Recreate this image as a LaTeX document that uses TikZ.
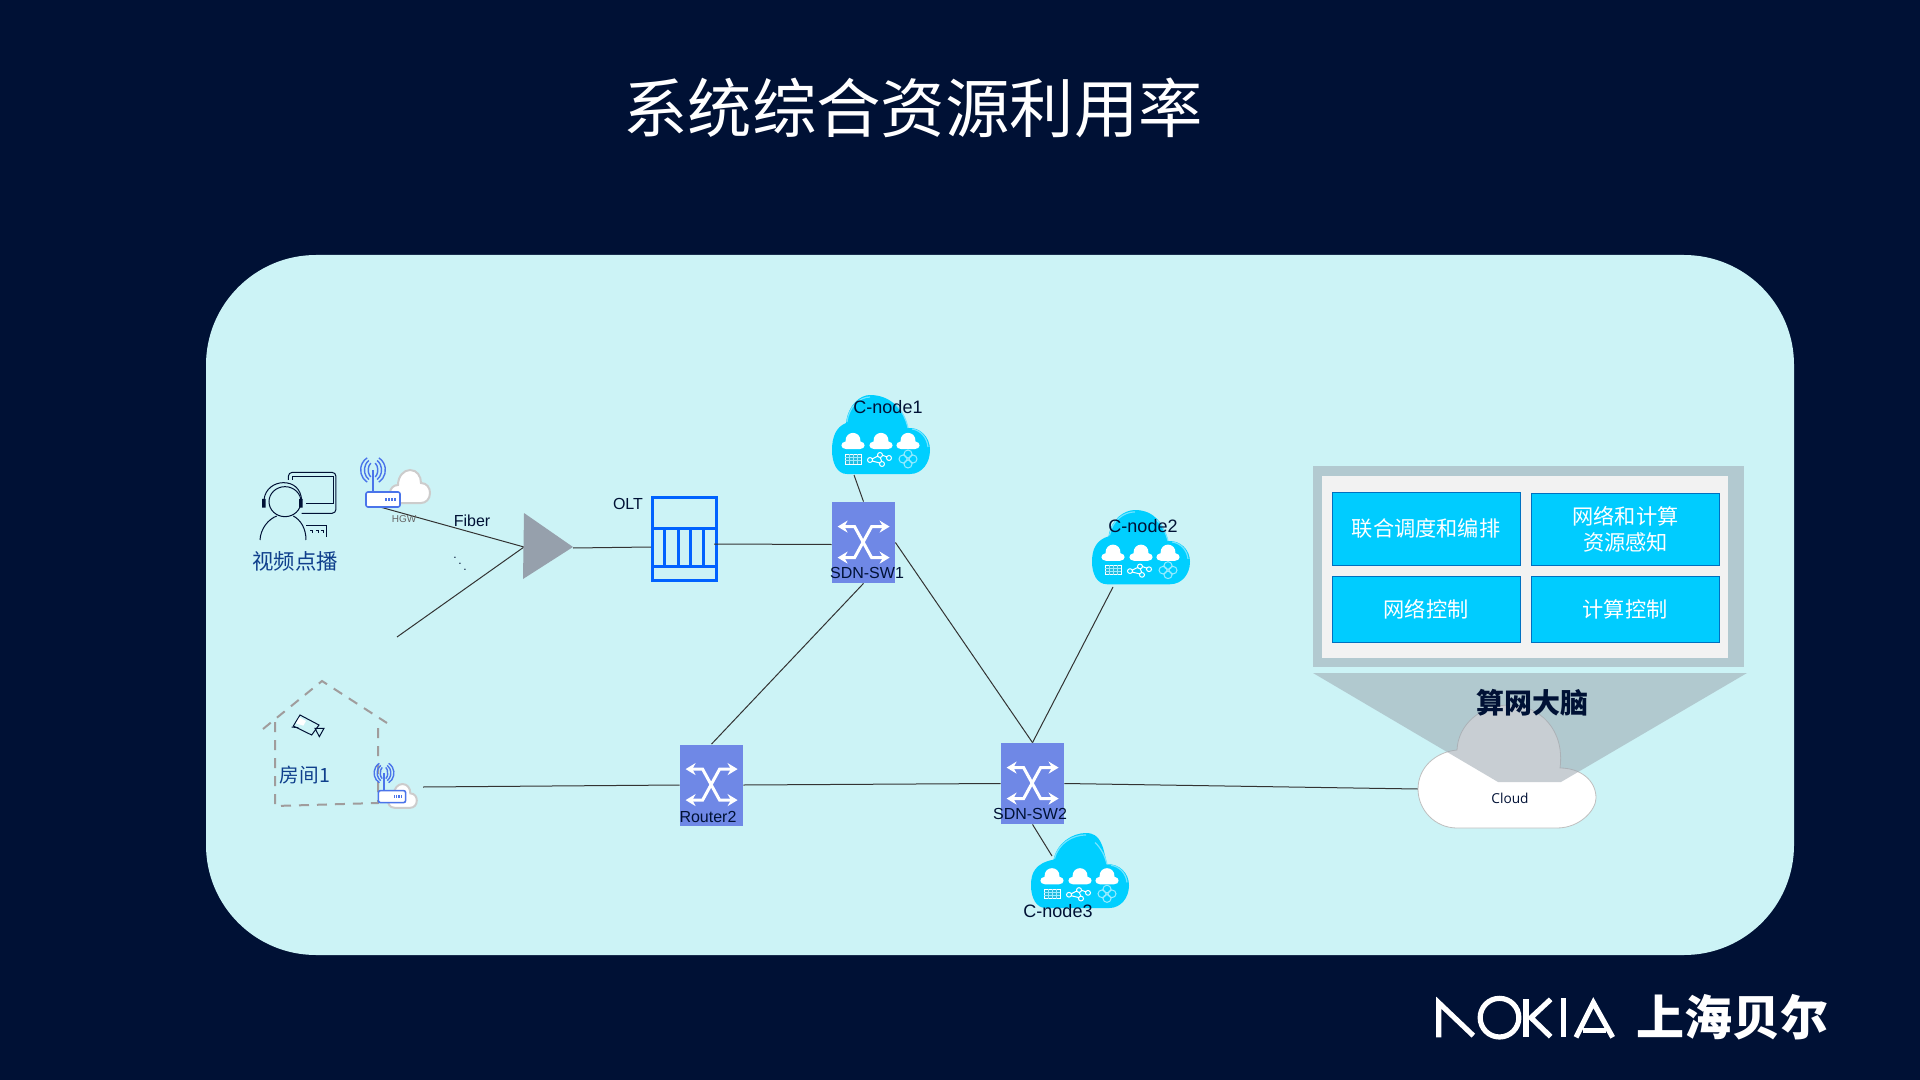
\documentclass[tikz,border=0pt]{standalone}
\usepackage{fontspec}
\usetikzlibrary{arrows.meta}
\setmainfont{Liberation Sans}
\newfontfamily\cjk{Noto Sans CJK SC}
\newfontfamily\cloudfont{Open Sans}
\definecolor{bgnavy}{HTML}{001135}
\definecolor{panelcyan}{HTML}{CCF3F6}
\definecolor{textblue}{HTML}{0F3F8C}
\definecolor{swblue}{HTML}{6F88E6}
\definecolor{oltblue}{HTML}{0062FF}
\definecolor{wifiblue}{HTML}{4A74EA}
\definecolor{cloudcyan}{HTML}{00CFFF}
\definecolor{boxcyan}{HTML}{00CCFF}
\definecolor{boxedge}{HTML}{0070C0}
\definecolor{brainframe}{HTML}{B2C9D0}
\definecolor{brainfill}{HTML}{9CA7B0}
\definecolor{splitgray}{HTML}{96A0AC}
\definecolor{housegray}{HTML}{A09C9C}
\tikzset{
	link/.style={draw=black!80,line width=.5pt},
	lbl/.style={inner sep=0pt,text=bgnavy,font=\fontsize{8}{10}\selectfont},
	cjklbl/.style={inner sep=0pt,text=textblue,font=\cjk\fontsize{10.7}{13}\selectfont},
	swbox/.style={fill=swblue,inner sep=0pt,minimum width=31.5pt,minimum height=40.5pt},
	ctrlbox/.style={draw=boxedge,line width=.5pt,fill=boxcyan,inner sep=0pt,text=white,align=center,
		minimum width=94pt,font=\cjk\fontsize{10.6}{13}\selectfont},
	logostroke/.style={draw=white,line width=2.6pt,miter limit=3},
	swarrow/.style={white,line width=1.5pt,{Stealth[length=5pt,width=6pt]}-{Stealth[length=5pt,width=6pt]}},
	pics/swicon/.style={code={
		\draw[swarrow] (6,25) -- (23,25) -- (40,56) -- (58,56);
		\draw[swarrow] (6,56) -- (23,56) -- (40,25) -- (58,25);
	}},
	pics/whitecloud/.style={code={
		\draw[black!20,line width=1pt,fill=white] (9,33) .. controls (2,33) and (0,27) .. (0,23)
		.. controls (0,18) and (4,15) .. (8,15) .. controls (8,6) and (14,0) .. (20,0)
		.. controls (27,0) and (31,6) .. (31,13) .. controls (37,13) and (40,18) .. (40,23)
		.. controls (40,29) and (36,33) .. (31,33) -- cycle;
	}},
	pics/hgw/.style={code={
		\draw[wifiblue,line width=.7pt] (-10,-30) -- (-10,-8);
		\foreach \r/\h in {5/8,9/11,13/14}{
			\draw[wifiblue,line width=.7pt] (-10,-30) ++(120:\r*.9 and \h) arc[start angle=120,end angle=240,x radius=\r,y radius=\h];
			\draw[wifiblue,line width=.7pt] (-10,-30) ++(60:\r*.9 and \h) arc[start angle=60,end angle=-60,x radius=\r,y radius=\h];
		}
		\draw[wifiblue,line width=.8pt,fill=white,rounded corners=1pt] (-17,-8) rectangle (17,7);
		\foreach \x in {2,5,8,11}{
			\fill[wifiblue] (\x,-2) rectangle ++(1.5,3);
		}
	}},
	pics/smallcloud/.style={code={
		\fill[white] (-7,0) .. controls (-13,0) and (-13,-7) .. (-7.5,-7.5)
		.. controls (-8,-19) and (8,-19) .. (7.5,-7.5) .. controls (13,-7) and (13,0) .. (7,0) -- cycle;
	}},
	pics/cnode/.style={code={
		\fill[cloudcyan] (15,79) .. controls (5,79) and (0,68) .. (0,55) .. controls (0,42) and (4,32) .. (14+#1*.5,28)
		.. controls (16+#1*.6,10) and (28+#1*.8,0) .. (38+#1,0) .. controls (58+#1*.7,0) and (72,14) .. (76,33)
		.. controls (88,32) and (98,42) .. (98,55) .. controls (98,68) and (90,79) .. (78,79) -- cycle;
		\draw[white!45!cloudcyan,line width=.6pt] (15+#1*.5,27) .. controls (17+#1*.6,11) and (28+#1*.8,2) .. (38+#1,2);
		\draw[white!45!cloudcyan,line width=.6pt] (76,33) .. controls (74,24) and (70,16) .. (64,10);
		\draw[white!45!cloudcyan,line width=.6pt] (80,34) .. controls (88,35) and (95,42) .. (96,52);
		\pic at (21,54) {smallcloud};
		\pic at (49,54) {smallcloud};
		\pic at (76,54) {smallcloud};
		\draw[white,line width=.5pt,fill=cloudcyan!75!gray] (13,59) rectangle (29,69);
		\draw[white!60!cloudcyan,line width=.3pt] (13,62.5) -- (29,62.5) (13,65.5) -- (29,65.5)
		(17,59) -- (17,69) (21,59) -- (21,69) (25,59) -- (25,69);
		\draw[white,line width=.5pt] (38,65) circle (2.5) (48,60) circle (2.5) (57,63) circle (2.5) (50,69) circle (2.5)
		(40,64) -- (46,61) (50,60) -- (55,62) (40,66) -- (48,68) (48,62) -- (50,67);
		\draw[white!60!cloudcyan,line width=.5pt] (71,64) circle (4) (81,64) circle (4) (76,59) circle (4) (76,69) circle (4);
	}},
}
\begin{document}
\begin{tikzpicture}[x=.5pt,y=-.5pt]
	\fill[bgnavy] (0,0) rectangle (1920,1080);
	\fill[panelcyan,rounded corners=55pt] (206,255) rectangle (1794,955);
	\node[inner sep=0pt,text=white,font=\cjk\fontsize{32.2}{38}\selectfont] (title) at (913,108) {系统综合资源利用率};
	% connectors
	\coordinate (hgwone) at (380,507);
	\coordinate (hgwtwo) at (423,787);
	\coordinate (fiberend) at (397,637);
	\coordinate (splitin) at (524,547);
	\coordinate (splitout) at (573,548);
	\coordinate (cnodeonein) at (854,475);
	\coordinate (cnodetwoin) at (1113,587);
	\coordinate (cnodethreein) at (1052,856);
	\coordinate (cloudin) at (1418,789);
	\node[swbox] (sw1) at (863.5,542.5) {};
	\node[swbox] (sw2) at (1032.5,783.5) {};
	\node[swbox] (router2) at (711.5,785) {};
	\node[draw=oltblue,line width=1.5pt,inner sep=0pt,minimum width=32pt,minimum height=41.5pt] (olt) at (684.5,539) {};
	\draw[link] (hgwone) -- (splitin);
	\draw[link] (fiberend) -- (splitin);
	\draw[link] (splitout) -- ([yshift=-4pt]olt.west);
	\draw[link] ([yshift=-2.5pt,xshift=-2pt]olt.east) -- ([yshift=-1pt]sw1.west);
	\draw[link] (sw1.north) -- (cnodeonein);
	\draw[link] (sw1.east) -- (sw2.north);
	\draw[link] (sw1.south) -- (router2.north);
	\draw[link] (sw2.north) -- (cnodetwoin);
	\draw[link] (hgwtwo) -- (router2.west);
	\draw[link] (router2.east) -- (sw2.west);
	\draw[link] (sw2.east) -- (cloudin);
	\draw[link] (sw2.south) -- (cnodethreein);
	% switches
	\pic at (sw1.north west) {swicon};
	\pic at (sw2.north west) {swicon};
	\pic at (router2.north west) {swicon};
	\node[lbl] (sw1text) at (867,573) {SDN-SW1};
	\node[lbl] (sw2text) at (1030,814) {SDN-SW2};
	\node[lbl] (router2text) at (708,817) {Router2};
	% OLT and splitter
	\fill[splitgray] (524,513) -- (573,547) -- (523,579) -- cycle;
	\foreach \y in {528,566}{
		\draw[oltblue,line width=1.5pt] (651,\y) -- (718,\y);
	}
	\foreach \x in {664,678,690,703}{
		\draw[oltblue,line width=1.5pt] (\x,528) -- (\x,566);
	}
	\node[lbl] (olttext) at (628,504) {OLT};
	\node[lbl] (fibertext) at (472,521) {Fiber};
	\node[lbl,font=\fontsize{5}{6}\selectfont,text=black!60] (hgwtext) at (404,519) {HGW};
	\node[inner sep=0pt,text=bgnavy,font=\fontsize{6}{7}\selectfont] (dots) at (460,558) {$\ddots$};
	% video user
	\begin{scope}[shift={(230,430)},x=1/6*1pt,y=-1/6*1pt,bgnavy,line width=.5pt]
		\draw[rounded corners=2pt] (175,150) -- (175,127) -- (318,127) -- (318,250) -- (215,250);
		\draw (188,150) -- (188,140) -- (310,140) -- (310,222) -- (228,222);
		\draw (165,215) ellipse (48 and 45);
		\draw (102,210) .. controls (105,175) and (135,158) .. (160,158) .. controls (190,158) and (212,175) .. (215,210);
		\fill (96,207) rectangle (107,233) (207,207) rectangle (218,233);
		\draw (90,330) .. controls (92,295) and (115,268) .. (140,258);
		\draw (190,258) .. controls (212,270) and (228,295) .. (228,330);
		\draw (228,288) -- (290,288) -- (290,322);
		\foreach \x in {240,258,272}{
			\draw (\x,301) -- (\x+8,301) -- (\x+8,310);
		}
	\end{scope}
	\node[cjklbl] (vodtext) at (295,561) {视频点播};
	% room
	\draw[housegray,line width=1pt,dash pattern=on 5pt off 4pt] (263,729) -- (322,681) -- (387,723);
	\draw[housegray,line width=1pt,dash pattern=on 5pt off 4pt] (275,722) -- (275,806) -- (378,803) -- (378,722);
	\begin{scope}[shift={(240,660)},x=1/6*1pt,y=-1/6*1pt,bgnavy,line width=.5pt]
		\draw (180,165) -- (237,195) -- (215,225) -- (160,198) -- cycle;
		\fill[white] (178,172) -- (198,183) -- (190,197) -- (168,190) -- cycle;
		\draw (225,205) -- (252,205) -- (238,230) -- cycle;
		\draw (155,201) -- (175,203);
	\end{scope}
	\node[cjklbl,font=\cjk\fontsize{9.8}{12}\selectfont] (roomtext) at (305,775) {房间1};
	% home gateways
	\pic at (390,470) {whitecloud};
	\pic at (383,500) {hgw};
	\pic[scale=.72] at (388,784) {whitecloud};
	\pic[scale=.8] at (392,797) {hgw};
	% compute nodes
	\pic at (832,395) {cnode=0};
	\pic[yscale=.94] at (1092,510) {cnode=5};
	\pic[yscale=.95] at (1031,833) {cnode=17};
	\node[lbl,font=\fontsize{9}{11}\selectfont] (cnodeonetext) at (888,407) {C-node1};
	\node[lbl,font=\fontsize{9}{11}\selectfont] (cnodetwotext) at (1143,526) {C-node2};
	\node[lbl,font=\fontsize{9}{11}\selectfont] (cnodethreetext) at (1058,911) {C-node3};
	% brain
	\fill[brainframe] (1313,466) rectangle (1744,667);
	\fill[black!5] (1322,476) rectangle (1728,658);
	\node[ctrlbox,minimum height=36.5pt] (schedule) at (1426,528.5) {联合调度和编排};
	\node[ctrlbox,minimum height=36pt] (sensing) at (1625.5,529) {网络和计算\\资源感知};
	\node[ctrlbox,minimum height=33pt] (netctrl) at (1426,609) {网络控制};
	\node[ctrlbox,minimum height=33pt] (compctrl) at (1625,609) {计算控制};
	\draw[black!25,line width=.4pt,fill=white] (1457,750) .. controls (1435,752) and (1418,768) .. (1418,789)
	.. controls (1418,810) and (1435,828) .. (1457,828) -- (1557,828)
	.. controls (1580,828) and (1596,810) .. (1596,798) .. controls (1596,780) and (1580,768) .. (1560,768)
	.. controls (1565,730) and (1540,705) .. (1509,705) .. controls (1480,705) and (1458,725) .. (1457,750) -- cycle;
	\fill[brainfill,opacity=.55] (1313,673) -- (1747,673) -- (1561,782) -- (1498,782) -- cycle;
	\node[lbl,font=\cloudfont\fontsize{6.85}{9}\selectfont] (cloudtext) at (1510,798) {Cloud};
	\node[lbl,font=\cjk\bfseries\fontsize{14}{17}\selectfont] (braintext) at (1532,703) {算网大脑};
	% logo
	\begin{scope}[shift={(1420,970)},x=1/6*1pt,y=-1/6*1pt]
		\draw[logostroke] (56,202) -- (56,98) -- (160,197);
		\draw[logostroke] (238.5,143) circle (58);
		\draw[logostroke] (318,88) -- (318,200);
		\draw[logostroke] (392,88) -- (333,143) -- (392,200);
		\draw[logostroke] (430,85) -- (430,200);
		\draw[logostroke] (468,202) -- (520,98) -- (578,202);
		\draw[logostroke] (488,181) -- (558,181);
	\end{scope}
	\node[inner sep=0pt,text=white,font=\cjk\bfseries\fontsize{24}{28}\selectfont] (brandtext) at (1732,1017) {上海贝尔};
\end{tikzpicture}
\end{document}
